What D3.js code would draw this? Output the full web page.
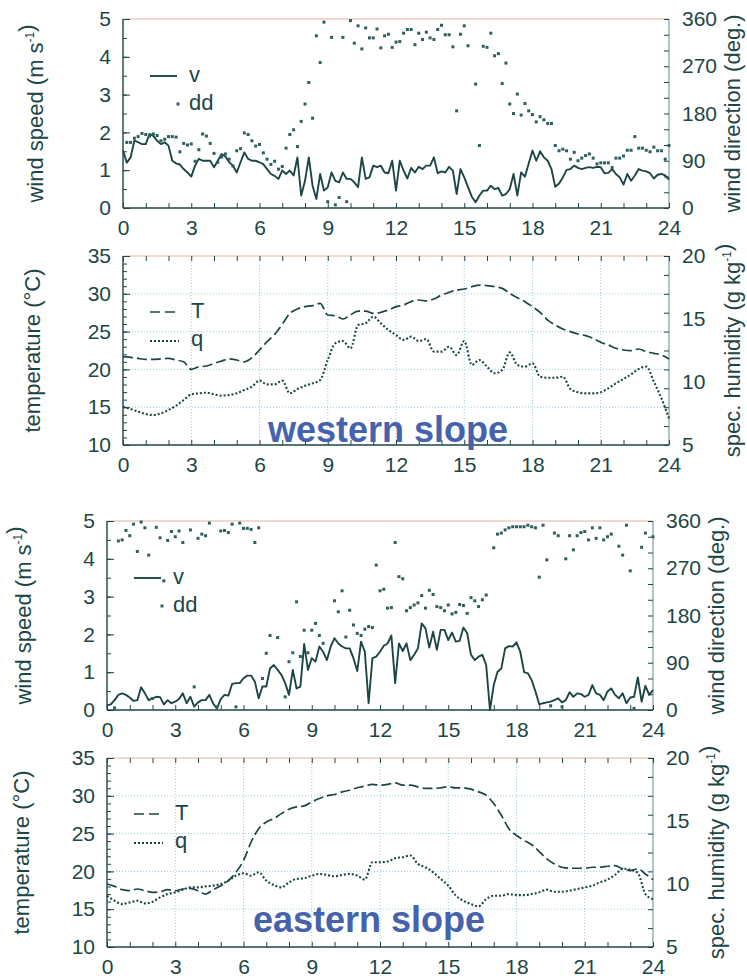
<!DOCTYPE html>
<html>
<head>
<meta charset="utf-8">
<script src="https://cdn.jsdelivr.net/npm/d3@7"></script>
<style>
    body { margin: 0; background: #fff; }
    svg text { font-family: 'Liberation Sans', Arial, sans-serif; }
</style>
</head>
<body>
<div id="chart"></div>
<script>
// ---- data ----
// wind: one value every 10 min from 0 to 24 h, null = no point
const westSpeed = [
    1.52, 1.2, 1.34, 1.78, 1.74, 1.69, 1.69, 1.96, 1.91, 1.78,
    1.69, 1.74, 1.65, 1.25, 1.18, 1.15, 1.03, 0.94, 0.83, 1.12,
    1.30, 1.25, 1.25, 1.25, 1.08, 1.25, 1.43, 1.36, 1.21, 1.12,
    0.94, 1.21, 1.47, 1.30, 1.25, 1.25, 1.21, 1.16, 1.03, 0.90,
    0.85, 0.77, 0.99, 0.90, 0.99, 0.86, 1.34, 0.33, 0.72, 1.34,
    0.59, 0.24, 0.90, 0.46, 0.55, 0.94, 0.72, 0.68, 0.94, 0.77,
    0.77, 0.68, 0.55, 1.34, 0.77, 0.81, 1.12, 1.08, 1.12, 0.94,
    0.92, 1.25, 0.46,
    1.25, 0.99, 0.78, 1.06, 0.94, 1.09, 1.03, 1.12, 1.12, 1.34,
    0.92, 0.97, 0.94, 1.09, 0.99, 0.37, 1.03, 0.81, 0.55, 0.30,
    0.15, 0.33, 0.46, 0.46, 0.59, 0.50, 0.53, 0.33, 0.37, 0.50,
    0.90, 0.33, 0.94, 0.83, 1.18, 1.52, 1.25, 1.50, 1.34, 1.25,
    1.03, 0.56, 0.65, 0.81, 1.01, 1.03, 1.12, 1.06, 1.03, 1.06,
    1.08, 1.06, 1.09, 1.08, 0.92, 0.93, 1.03, 0.90, 0.81, 0.62,
    0.90, 0.72, 0.86, 1.03, 0.99, 0.97, 0.92, 0.78, 0.88, 0.90,
    0.86, 0.75
];
const westDir = [
    null, 125, 125, 133, 136, 142, 140, 137, 141, 138,
    128, 131, 136, 136, 135, 107, 123, 120, 122, 89,
    111, 141, 137, 123, 104, 87, 97, 103, 93, 80,
    109, 113, 143, 140, 128, 118, 121, 105, 93, 83,
    89, 74, 79, 114, 140, 149, 117, 165, 198, 239,
    171, 328, 277, 354, 12, 325, 6, 20, 325, 12,
    357, 314, 347, 303, 343, 324, 324, 341, 305, 328,
    331, 306, 316, 317, 333, 340, 340, 311, 333, 321,
    335, 324, 321, 340, 348, 330, 330, 307, 185, 331,
    347, 309, null, 236, 119, 308, 306, 333, 290, 294,
    237, 276, 198, 180, 217, 177, 199, 185, 178, 164,
    174, 168, 161, 161, 119, 109, 112, 109, 93, 106,
    90, 95, 100, 103, 95, 84, 86, 86, 86, 77,
    95, 95, 99, 110, 110, 136, 114, 114, 110, 107,
    116, 109, 109, 93, 119
];
const eastSpeed = [
    0.12, 0.15, 0.26, 0.40, 0.44, 0.40, 0.33, 0.24, 0.26, 0.60,
    0.44, 0.26, 0.31, 0.35, 0.34, 0.15, 0.26, 0.18, 0.22, 0.29,
    0.44, 0.18, 0.35, 0.09, 0.20, 0.26, 0.26, 0.40, 0.17, 0.04,
    0.29, 0.40, 0.38, 0.69, 0.71, 0.71, 0.84, 0.91, 0.91, 0.75,
    0.31, 0.62, 0.62, 1.10, 1.19, 1.06, 0.93, 0.71, 0.40, 1.06,
    0.57, 0.62, 1.75, 1.06, 1.37, 1.28, 1.68, 1.54, 1.32, 1.68,
    1.90, 1.76, 1.68, 1.63, 1.63, 1.37, 1.03, 1.81, 1.54, 0.18,
    1.37, 1.41, 1.54,
    1.70, 1.76, 1.97, 0.71, 1.76, 1.56, 1.76, 1.32, 1.46, 1.63,
    2.29, 2.16, 1.65, 2.07, 1.59, 2.12, 2.12, 1.85, 2.05, 1.81,
    1.83, 2.18, 2.03, 1.46, 1.32, 1.41, 1.46, 1.19, 0.00, 0.66,
    1.01, 1.10, 1.63, 1.69, 1.68, 1.79, 1.54, 1.00, 0.97, 0.79,
    0.49, 0.15, 0.18, 0.20, 0.22, 0.26, 0.31, 0.20, 0.26, 0.47,
    0.35, 0.44, 0.42, 0.35, 0.40, 0.66, 0.44, 0.40, 0.26, 0.49,
    0.57, 0.40, 0.31, 0.44, 0.18, 0.33, 0.35, 0.86, 0.22, 0.64,
    0.40, 0.53
];
const eastDir = [
    null, null, 4, 322, 324, 342, 332, 354, 302, 358,
    347, 295, 22, 348, 328, 246, 323, 340, 330, 341,
    319, 16, 343, 44, 327, 335, 332, 356, null, 6,
    341, 342, 338, 354, 6, 356, 346, 346, 344, 319,
    347, 60, 108, 142, null, 138, null, 25, 92, 109,
    206, 102, 152, 109, 152, 165, 142, 127, null, null,
    208, 187, 227, 139, 190, 162, 146, 142, 154, 159,
    157, 276, 227, 230, 194, 195, 319, 254, 250, 189,
    195, 200, 204, 218, 194, 228, 220, 197, 195, 189,
    200, 183, 186, 201, 199, 184, 214, 208, 197, 210,
    219, null, 309, 335, 337, 343, 347, 349, 349, 349,
    349, 352, 349, 347, 253, 352, 286, 8, 337, 332,
    6, 288, 332, 305, 332, 338, 340, 324, 347, 327,
    347, 324, 330, 335, null, 312, 295, 352, 265, 3,
    null, 310, 337, null, 330
];

// temperature (°C) and specific humidity (g/kg): one value every 20 min
const westTemp = [
    21.68, 21.6, 21.46, 21.33, 21.33, 21.4, 21.46, 21.24, 21.0, 20.0,
    20.36, 20.45, 20.8, 21.1, 21.4, 21.24, 21.0, 21.55, 22.57, 23.67,
    24.64, 25.96, 27.4, 28.0, 28.3, 28.43, 28.74, 27.2, 27.1, 26.67,
    27.2, 27.72, 27.72, 27.4, 27.55, 27.86, 28.3, 28.52, 28.96, 29.18,
    29.05, 29.31, 29.84, 30.19, 30.5, 30.63, 30.94, 31.16, 31.08, 30.94,
    30.72, 30.06, 29.49, 28.96, 28.3, 27.55, 26.53, 25.87, 25.34, 24.99,
    24.68, 24.46, 24.11, 23.58, 23.23, 22.79, 22.57, 22.48, 22.7, 22.35,
    22.13, 21.9, 21.38
];
const westHum = [
    8.04, 7.86, 7.65, 7.46, 7.38, 7.51, 7.78, 8.12, 8.57, 9.02,
    9.1, 9.15, 9.02, 8.92, 8.97, 9.1, 9.37, 9.63, 10.11, 9.81,
    9.81, 10.11, 9.1, 9.44, 9.71, 9.89, 10.16, 11.75, 13.07, 13.25,
    12.67, 14.52, 14.66, 15.19, 14.66, 14.13, 13.73, 13.33, 13.6, 13.25,
    13.41, 12.41, 12.41, 12.8, 12.14, 13.25, 11.35, 11.75, 11.22, 10.69,
    10.95, 12.35, 11.35, 11.22, 11.48, 10.42, 10.34, 10.34, 10.42, 9.44,
    9.18, 9.1, 9.1, 9.18, 9.5, 9.89, 10.24, 10.61, 11.03, 11.22,
    10.03, 8.7, 7.12
];
const eastTemp = [
    18.33, 18.02, 17.58, 17.45, 17.67, 17.45, 17.23, 17.31, 17.58, 17.45,
    17.67, 17.76, 17.45, 17.0, 17.58, 18.11, 18.78, 19.88, 21.44, 23.87,
    25.65, 26.53, 26.98, 27.64, 28.22, 28.53, 28.66, 29.19, 29.64, 29.99,
    30.17, 30.52, 30.74, 31.06, 31.28, 31.5, 31.41, 31.5, 31.72, 31.41,
    31.41, 31.19, 30.97, 30.97, 31.06, 31.19, 31.06, 31.06, 30.88, 30.52,
    30.08, 28.97, 27.42, 25.65, 24.76, 24.1, 23.52, 22.63, 21.66, 20.99,
    20.55, 20.42, 20.42, 20.42, 20.55, 20.55, 20.68, 20.77, 20.33, 20.11,
    20.33, 19.66, 18.91
];
const eastHum = [
    9.07, 8.67, 8.4, 8.54, 8.67, 8.46, 8.59, 8.94, 9.2, 9.34,
    9.55, 9.73, 9.73, 9.81, 9.87, 10.0, 10.27, 10.66, 10.85, 10.66,
    10.93, 10.27, 9.92, 9.73, 10.13, 10.4, 10.45, 10.66, 10.8, 10.72,
    10.61, 10.72, 10.8, 10.66, 10.35, 11.73, 11.73, 11.78, 12.05, 12.13,
    12.26, 11.6, 11.33, 10.93, 10.4, 9.87, 9.07, 8.67, 8.4, 8.22,
    8.8, 9.07, 9.07, 9.2, 9.12, 9.12, 9.2, 9.34, 9.55, 9.39,
    9.39, 9.47, 9.6, 9.73, 9.87, 10.13, 10.35, 10.72, 11.2, 11.14,
    10.88, 9.2, 8.8
];

// ticks
const hourTicks = [0, 3, 6, 9, 12, 15, 18, 21, 24];
const speedTicks = [0, 1, 2, 3, 4, 5];
const dirTicks = [0, 90, 180, 270, 360];
const tempTicks = [10, 15, 20, 25, 30, 35];
const humTicks = [5, 10, 15, 20];

// ---- layout ----
const ink = '#1c4645';
const frameTop = '#e2b49c';
const gridColor = '#9cc9de';
const titleBlue = '#4562ad';
const pw = 546, ph = 189;

const svg = d3
    .select('#chart')
    .append('svg')
    .attr('width', 747)
    .attr('height', 979);

const panels = [
    { kind: 'wind', left: 123, top: 19, speed: westSpeed, dir: westDir, titleOff: -80 },
    { kind: 'thermo', left: 123, top: 256, temp: westTemp, hum: westHum, titleOff: -83,
      name: 'western slope', nameX: 388, nameY: 442 },
    { kind: 'wind', left: 107, top: 521, speed: eastSpeed, dir: eastDir, titleOff: -76 },
    { kind: 'thermo', left: 107, top: 758, temp: eastTemp, hum: eastHum, titleOff: -78,
      name: 'eastern slope', nameX: 369, nameY: 932 }
];

function styleAxis(sel) {
    sel.select('.domain').remove();
    sel.attr('font-size', 21).attr('font-family', 'Liberation Sans, Arial, sans-serif');
    sel.selectAll('line').attr('stroke', ink).attr('stroke-width', 1);
    sel.selectAll('text').attr('fill', ink);
}

function rotatedTitle(g, x, y, parts) {
    const t = g.append('text')
        .attr('transform', `translate(${x},${y}) rotate(-90)`)
        .attr('text-anchor', 'middle')
        .attr('font-size', 22)
        .attr('fill', ink);
    parts.forEach(([s, sup]) => {
        if (sup) {
            t.append('tspan').attr('font-size', 12).attr('dy', -9).text(s);
            t.append('tspan').attr('dy', 9).text('');
        } else {
            t.append('tspan').text(s);
        }
    });
}

const fmt = d3.format('d');

panels.forEach((p) => {
    const g = svg.append('g').attr('transform', `translate(${p.left}, ${p.top})`);
    const x = d3.scaleLinear().domain([0, 24]).range([0, pw]);
    const wind = p.kind === 'wind';
    const yL = d3.scaleLinear().domain(wind ? [0, 5] : [10, 35]).range([ph, 0]);
    const yR = d3.scaleLinear().domain(wind ? [0, 360] : [5, 20]).range([ph, 0]);

    // dotted grid (thermo panels)
    if (!wind) {
        g.append('g').selectAll('line').data(hourTicks.slice(1, -1)).enter().append('line')
            .attr('x1', (d) => x(d)).attr('x2', (d) => x(d))
            .attr('y1', 0).attr('y2', ph)
            .attr('stroke', gridColor).attr('stroke-dasharray', '1,2');
        g.append('g').selectAll('line').data(tempTicks.slice(1, -1)).enter().append('line')
            .attr('x1', 0).attr('x2', pw)
            .attr('y1', (d) => yL(d)).attr('y2', (d) => yL(d))
            .attr('stroke', gridColor).attr('stroke-dasharray', '1,2');
    }

    // frame
    g.append('line').attr('x1', 0).attr('x2', pw).attr('y1', 0).attr('y2', 0)
        .attr('stroke', frameTop).attr('stroke-width', 1.2);
    g.append('line').attr('x1', pw).attr('x2', pw).attr('y1', 0).attr('y2', ph)
        .attr('stroke', '#7f9c9c').attr('stroke-width', 1.2);
    g.append('line').attr('x1', 0).attr('x2', 0).attr('y1', 0).attr('y2', ph)
        .attr('stroke', ink).attr('stroke-width', 1.4);
    g.append('line').attr('x1', 0).attr('x2', pw).attr('y1', ph).attr('y2', ph)
        .attr('stroke', ink).attr('stroke-width', 1.4);

    // axes: inward ticks
    g.append('g').attr('transform', `translate(0, ${ph})`)
        .call(d3.axisBottom(x).tickValues(d3.range(0, 25, 1)).tickSize(-5).tickFormat(''))
        .call(styleAxis);
    g.append('g').attr('transform', `translate(0, ${ph})`)
        .call(d3.axisBottom(x).tickValues(hourTicks).tickSize(0).tickPadding(12).tickFormat(fmt))
        .call(styleAxis);
    if (!wind) {
        g.append('g')
            .call(d3.axisTop(x).tickValues(d3.range(0, 25, 1)).tickSize(-5).tickFormat(''))
            .call(styleAxis);
    }
    const leftMinor = wind ? d3.range(0, 5.01, 0.5) : d3.range(10, 35.01, 1);
    g.append('g')
        .call(d3.axisLeft(yL).tickValues(leftMinor).tickSize(-4).tickFormat(''))
        .call(styleAxis);
    g.append('g')
        .call(d3.axisLeft(yL).tickValues(wind ? speedTicks : tempTicks)
            .tickSize(-7).tickPadding(12).tickFormat(fmt))
        .call(styleAxis);
    const rightMinor = wind ? d3.range(0, 361, 30) : d3.range(5, 20.01, 1.5);
    g.append('g').attr('transform', `translate(${pw}, 0)`)
        .call(d3.axisRight(yR).tickValues(rightMinor).tickSize(-5).tickFormat(''))
        .call(styleAxis);
    g.append('g').attr('transform', `translate(${pw}, 0)`)
        .call(d3.axisRight(yR).tickValues(wind ? dirTicks : humTicks)
            .tickSize(0).tickPadding(13).tickFormat(fmt))
        .call(styleAxis);

    // axis titles
    if (wind) {
        rotatedTitle(g, p.titleOff, ph / 2, [['wind speed (m s'], ['-1', true], [')']]);
        rotatedTitle(g, pw + 71, ph / 2, [['wind direction (deg.)']]);
    } else {
        rotatedTitle(g, p.titleOff, ph / 2, [['temperature (\u00b0C)']]);
        rotatedTitle(g, pw + 71, ph / 2, [['spec. humidity (g kg'], ['-1', true], [')']]);
    }

    if (wind) {
        const step = 24 / (p.speed.length - 1);
        const speedLine = d3.line()
            .x((d, i) => x(i * step))
            .y((d) => yL(d));
        g.append('path').datum(p.speed)
            .attr('d', speedLine)
            .attr('fill', 'none').attr('stroke', ink).attr('stroke-width', 1.9)
            .attr('stroke-linejoin', 'round');

        const dirPts = p.dir.map((d, i) => ({ t: i * step, d })).filter((d) => d.d !== null);
        g.append('g').selectAll('rect').data(dirPts).enter().append('rect')
            .attr('x', (d) => x(d.t) - 1.5)
            .attr('y', (d) => yR(d.d) - 1.5)
            .attr('width', 3).attr('height', 3)
            .attr('fill', '#2e5e5e');

        // legend
        g.append('line').attr('x1', 27).attr('x2', 54).attr('y1', 57).attr('y2', 57)
            .attr('stroke', ink).attr('stroke-width', 1.9);
        g.append('text').attr('x', 66).attr('y', 63).attr('font-size', 22).attr('fill', ink).text('v');
        g.append('rect').attr('x', 53.5).attr('y', 83.5).attr('width', 3).attr('height', 3).attr('fill', '#2e5e5e');
        g.append('text').attr('x', 66).attr('y', 91).attr('font-size', 22).attr('fill', ink).text('dd');
    } else {
        const step = 24 / (p.temp.length - 1);
        const tLine = d3.line().x((d, i) => x(i * step)).y((d) => yL(d)).curve(d3.curveMonotoneX);
        const qLine = d3.line().x((d, i) => x(i * step)).y((d) => yR(d)).curve(d3.curveMonotoneX);
        g.append('path').datum(p.temp)
            .attr('d', tLine)
            .attr('fill', 'none').attr('stroke', ink).attr('stroke-width', 1.7)
            .attr('stroke-dasharray', '10,4');
        g.append('path').datum(p.hum)
            .attr('d', qLine)
            .attr('fill', 'none').attr('stroke', ink).attr('stroke-width', 2.1)
            .attr('stroke-dasharray', '2,2');

        // legend
        g.append('line').attr('x1', 27).attr('x2', 56).attr('y1', 56).attr('y2', 56)
            .attr('stroke', ink).attr('stroke-width', 1.7).attr('stroke-dasharray', '10,5');
        g.append('text').attr('x', 68).attr('y', 62).attr('font-size', 22).attr('fill', ink).text('T');
        g.append('line').attr('x1', 27).attr('x2', 56).attr('y1', 85).attr('y2', 85)
            .attr('stroke', ink).attr('stroke-width', 2.1).attr('stroke-dasharray', '2,2');
        g.append('text').attr('x', 68).attr('y', 90).attr('font-size', 22).attr('fill', ink).text('q');

        svg.append('text')
            .attr('x', p.nameX).attr('y', p.nameY)
            .attr('text-anchor', 'middle')
            .attr('font-size', 36).attr('font-weight', 'bold')
            .attr('fill', titleBlue)
            .text(p.name);
    }
});
</script>
</body>
</html>
